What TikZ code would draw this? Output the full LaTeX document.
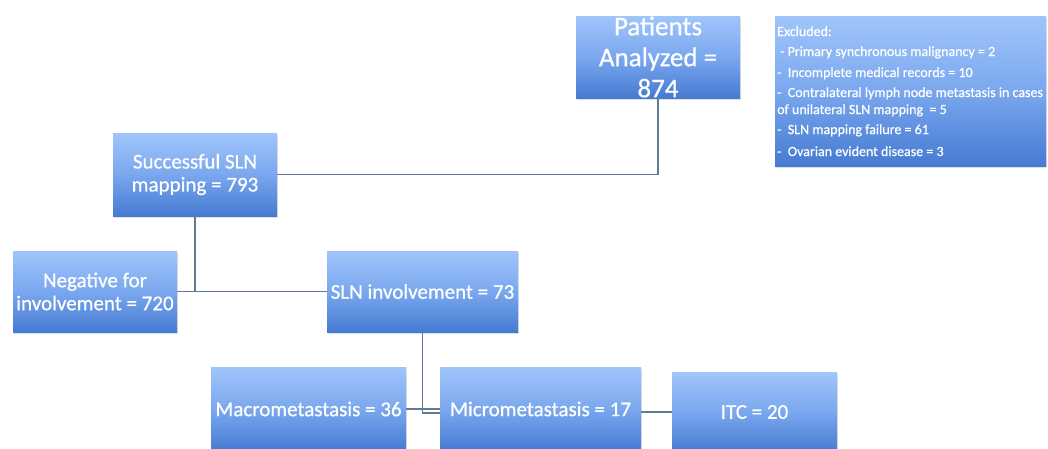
\documentclass[tikz,border=0pt]{standalone}
\usepackage{fontspec}
\setmainfont{Carlito}
\newfontfamily\boxfont{Carlito}[FakeBold=0.6]
\usetikzlibrary{shadows}
\definecolor{boxtop}{RGB}{160,197,251}
\definecolor{boxmid}{RGB}{122,167,238}
\definecolor{boxbot}{RGB}{70,123,210}
\definecolor{linecol}{RGB}{98,122,152}
\tikzset{
  fbox/.style={rectangle, draw=none, top color=boxtop, bottom color=boxbot, middle color=boxmid,
    text=white, align=center, inner sep=0pt,
    drop shadow={opacity=0.25, shadow xshift=1pt, shadow yshift=-2pt}},
  midfont/.style={font=\boxfont\fontsize{21}{23}\selectfont},
  bigfont/.style={font=\boxfont\fontsize{27}{31}\selectfont},
  exline/.style={anchor=base west, inner sep=0pt, text=white, font=\boxfont\fontsize{14}{16}\selectfont},
  conn/.style={draw=linecol, line width=1.2pt}
}
\begin{document}
\begin{tikzpicture}[x=1pt,y=-1pt]
\useasboundingbox[fill=white] (0,0) rectangle (1048,448);
% boxes
\node[fbox, bigfont, minimum width=164pt, minimum height=82pt] (pat) at (658,57) {Patients\\Analyzed =\\874};
\node[fbox, minimum width=271pt, minimum height=150pt] (exc) at (910.5,91) {};
\node[fbox, midfont, minimum width=164pt, minimum height=83pt] (succ) at (195,174.5) {Successful SLN\\mapping = 793};
\node[fbox, midfont, minimum width=164pt, minimum height=81pt] (neg) at (95,291.5) {Negative for\\involvement = 720};
\node[fbox, midfont, minimum width=191pt, minimum height=81pt] (inv) at (422.5,291.5) {SLN involvement = 73};
\node[fbox, midfont, minimum width=195pt, minimum height=84pt] (macro) at (308.5,409) {Macrometastasis = 36};
\node[fbox, midfont, minimum width=201pt, minimum height=84pt] (micro) at (540.5,409) {Micrometastasis = 17};
\node[fbox, midfont, minimum width=165pt, minimum height=80pt] (itc) at (754.5,412) {ITC = 20};
% excluded text
\node[exline] (e1) at (777,36) {Excluded:};
\node[exline] (e2) at (780,56) {- Primary synchronous malignancy = 2};
\node[exline] (e3) at (777,77) {-\ \ Incomplete medical records = 10};
\node[exline] (e4) at (777,97) {-\ \ Contralateral lymph node metastasis in cases};
\node[exline] (e5) at (777,114) {of unilateral SLN mapping\ \ = 5};
\node[exline] (e6) at (777,134) {-\ \ SLN mapping failure = 61};
\node[exline] (e7) at (777,156) {-\ \ Ovarian evident disease = 3};
% connectors
\draw[conn] (pat.south) |- (succ.east);
\draw[conn] (succ.south) -- (succ.south |- neg.east);
\draw[conn] (neg.east) -- (inv.west);
\draw[conn] (macro.east) -- (micro.west);
\draw[conn] (inv.south) |- ([yshift=-4pt]micro.west);
\draw[conn] (micro.east |- itc.west) -- (itc.west);
\end{tikzpicture}
\end{document}
